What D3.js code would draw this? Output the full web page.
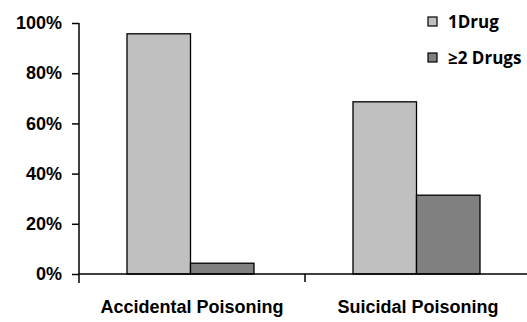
<!DOCTYPE html>
<html>
<head>
<meta charset="utf-8">
<script src="https://cdn.jsdelivr.net/npm/d3@7"></script>
<style>
  body { margin: 0; background: #fff; }
</style>
</head>
<body>
<div id="chart"></div>
<script>
// chart data
var categories = ["Accidental Poisoning", "Suicidal Poisoning"];
var seriesNames = ["1Drug", "\u22652 Drugs"];
var oneDrug = [95.7, 68.6];
var twoPlusDrugs = [4.3, 31.4];
var yTicks = [0, 20, 40, 60, 80, 100];

var colors = ["#c0c0c0", "#808080"];

var width = 527, height = 322;
var margin = { top: 23, right: -4, bottom: 48, left: 79 };
var innerW = width - margin.left - margin.right,
    innerH = height - margin.top - margin.bottom;

var rows = categories.map(function (c, i) {
    return { cat: c, values: [oneDrug[i], twoPlusDrugs[i]] };
});

var svg = d3.select("#chart")
    .append("svg")
    .attr("width", width)
    .attr("height", height)
    .style("font-family", "'DejaVu Sans', sans-serif");

var g = svg.append("g")
    .attr("transform", "translate(" + margin.left + "," + margin.top + ")");

var x0 = d3.scaleBand().domain(categories).range([0, innerW]).paddingInner(0).paddingOuter(0);
var x1 = d3.scaleBand().domain(seriesNames).range([48, x0.bandwidth() - 51]);
var y = d3.scaleLinear().domain([0, 100]).range([innerH, 0]);

// bars
g.selectAll("g.cat")
    .data(rows)
    .join("g")
    .attr("class", "cat")
    .attr("transform", function (d) { return "translate(" + x0(d.cat) + ",0)"; })
    .selectAll("rect")
    .data(function (d) { return d.values.map(function (v, i) { return { s: seriesNames[i], v: v, i: i }; }); })
    .join("rect")
    .attr("x", function (d) { return x1(d.s); })
    .attr("y", function (d) { return y(d.v); })
    .attr("width", x1.bandwidth())
    .attr("height", function (d) { return innerH - y(d.v); })
    .attr("fill", function (d) { return colors[d.i]; })
    .attr("stroke", "#000")
    .attr("stroke-width", 1.3);

// y axis
var yAxis = g.append("g")
    .call(d3.axisLeft(y).tickValues(yTicks).tickSize(7).tickPadding(10)
        .tickFormat(function (d) { return d + "%"; }));
yAxis.select(".domain").attr("stroke-width", 1.5).attr("d", "M0," + y(100) + "V" + (innerH + 9));
yAxis.selectAll(".tick line").attr("stroke-width", 1.5);
yAxis.selectAll("text")
    .style("font-size", "18px")
    .style("font-weight", "bold")
    .attr("fill", "#000");

// x axis
var xAxis = g.append("g")
    .attr("transform", "translate(0," + innerH + ")")
    .call(d3.axisBottom(x0).tickSize(0).tickPadding(26));
xAxis.select(".domain").attr("stroke-width", 1.5).attr("d", "M0,0H" + innerW);
xAxis.selectAll("text")
    .style("font-size", "18px")
    .style("font-weight", "bold")
    .attr("fill", "#000");

// category separator tick
g.append("line")
    .attr("x1", x0(categories[1])).attr("x2", x0(categories[1]))
    .attr("y1", innerH).attr("y2", innerH + 8)
    .attr("stroke", "#000").attr("stroke-width", 1.5);

// legend
var legend = svg.append("g")
    .attr("transform", "translate(428,17)")
    .selectAll("g")
    .data(seriesNames)
    .join("g")
    .attr("transform", function (d, i) { return "translate(0," + (i * 36) + ")"; });

legend.append("rect")
    .attr("width", 9).attr("height", 9)
    .attr("fill", function (d, i) { return colors[i]; })
    .attr("stroke", "#000").attr("stroke-width", 1.2);

legend.append("text")
    .attr("x", 20).attr("y", 11)
    .style("font-family", "'Open Sans', sans-serif")
    .style("font-size", "17px")
    .style("font-weight", "bold")
    .text(function (d) { return d; });
</script>
</body>
</html>
